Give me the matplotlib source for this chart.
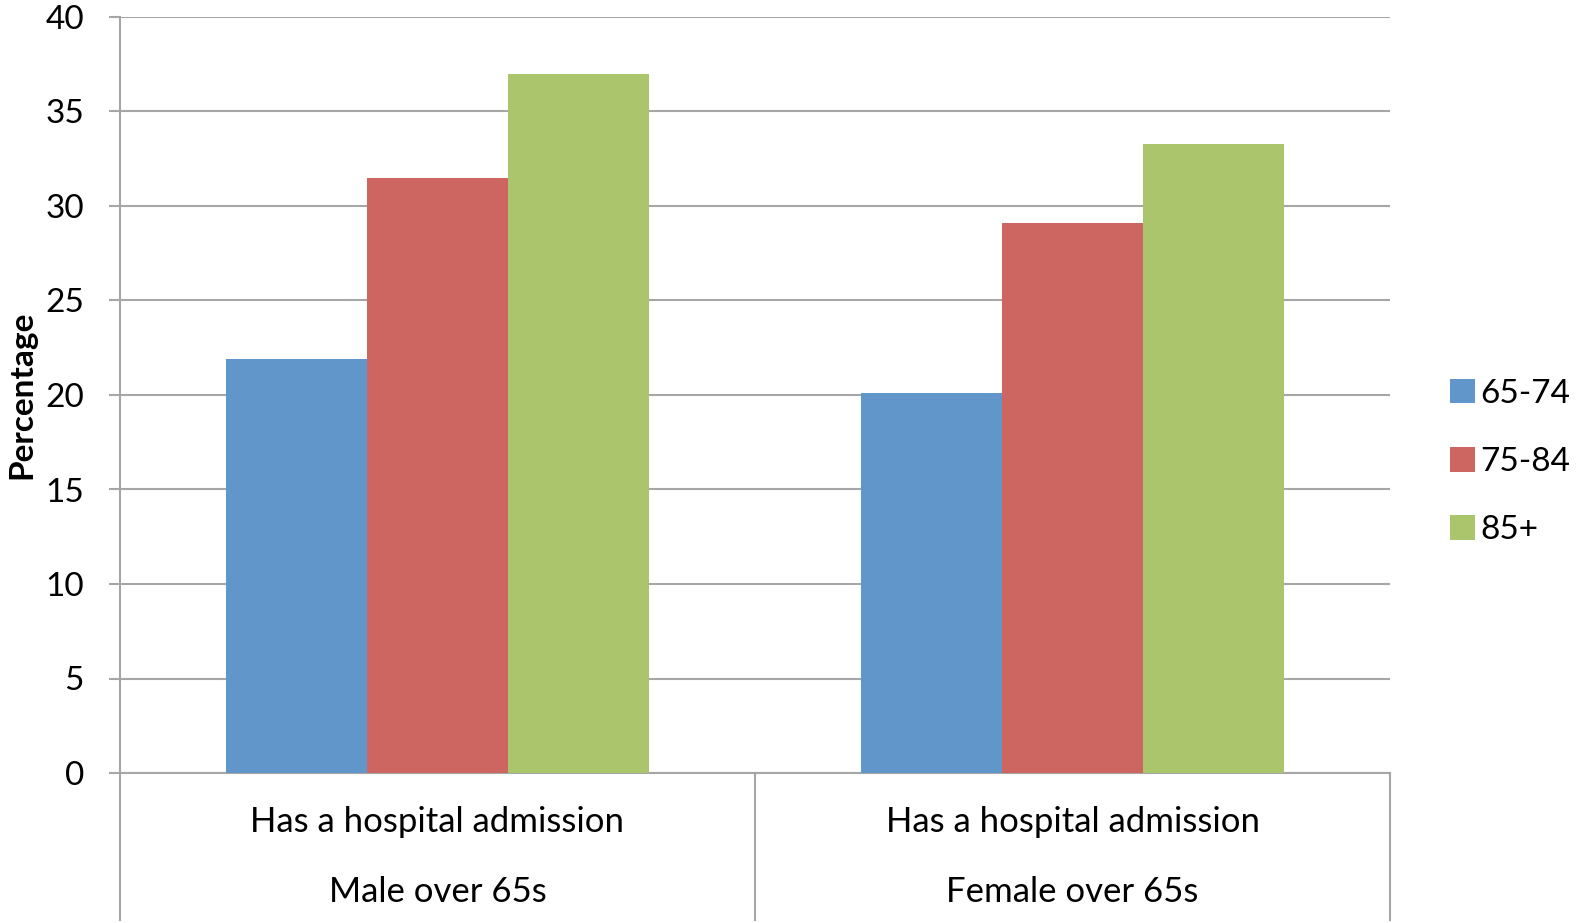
import numpy as np
import matplotlib.pyplot as plt

# data
groups = ['Male over 65s', 'Female over 65s']
sublabel = 'Has a hospital admission'
ages = ['65-74', '75-84', '85+']
pct_65_74 = [21.9, 20.1]
pct_75_84 = [31.5, 29.1]
pct_85_plus = [37.0, 33.3]
colors = ['#6096CA', '#CD6660', '#ABC56C']

plt.rcParams['font.family'] = ['Lato', 'DejaVu Sans']

fig = plt.figure(figsize=(15.76, 9.23), dpi=100)
ax = fig.add_axes([120/1576, 1-773/923, (1390-120)/1576, (773-17)/923])

x = np.arange(len(groups))
w = 0.222
series = [pct_65_74, pct_75_84, pct_85_plus]
for i, vals in enumerate(series):
    ax.bar(x + (i-1)*w, vals, w, color=colors[i], label=ages[i], zorder=3)

ax.set_xlim(-0.5, 1.5)
ax.set_ylim(0, 40)
ax.set_yticks(np.arange(0, 41, 5))
ax.yaxis.grid(True, color='#A6A6A6', linewidth=1.5, zorder=0)
ax.set_xticks([])
ax.tick_params(axis='y', labelsize=24, length=8, width=1.5, color='#A6A6A6', pad=18)
for s in ['top', 'right']:
    ax.spines[s].set_visible(False)
for s in ['left', 'bottom']:
    ax.spines[s].set_color('#A6A6A6')
    ax.spines[s].set_linewidth(1.5)
fig.text(22/1576, 1-395/923, 'Percentage', rotation=90, ha='center', va='center',
         fontsize=24, fontweight='bold')

# two-level category axis
tr = ax.get_xaxis_transform()
for xi, g in zip(x, groups):
    ax.text(xi, -0.065, sublabel, transform=tr, ha='center', va='center', fontsize=25)
    ax.text(xi, -0.158, g, transform=tr, ha='center', va='center', fontsize=25)
for xb in [-0.5, 0.5, 1.5]:
    ax.plot([xb, xb], [0, -0.195], transform=tr, color='#A6A6A6', linewidth=1.5, clip_on=False)

ax.legend(loc='center left', bbox_to_anchor=(1420/1576, 1-462/923), bbox_transform=fig.transFigure,
          frameon=False, fontsize=24, handlelength=0.75, handleheight=0.75, handletextpad=0.15,
          labelspacing=1.15)

fig.savefig('out.png', dpi=100)
